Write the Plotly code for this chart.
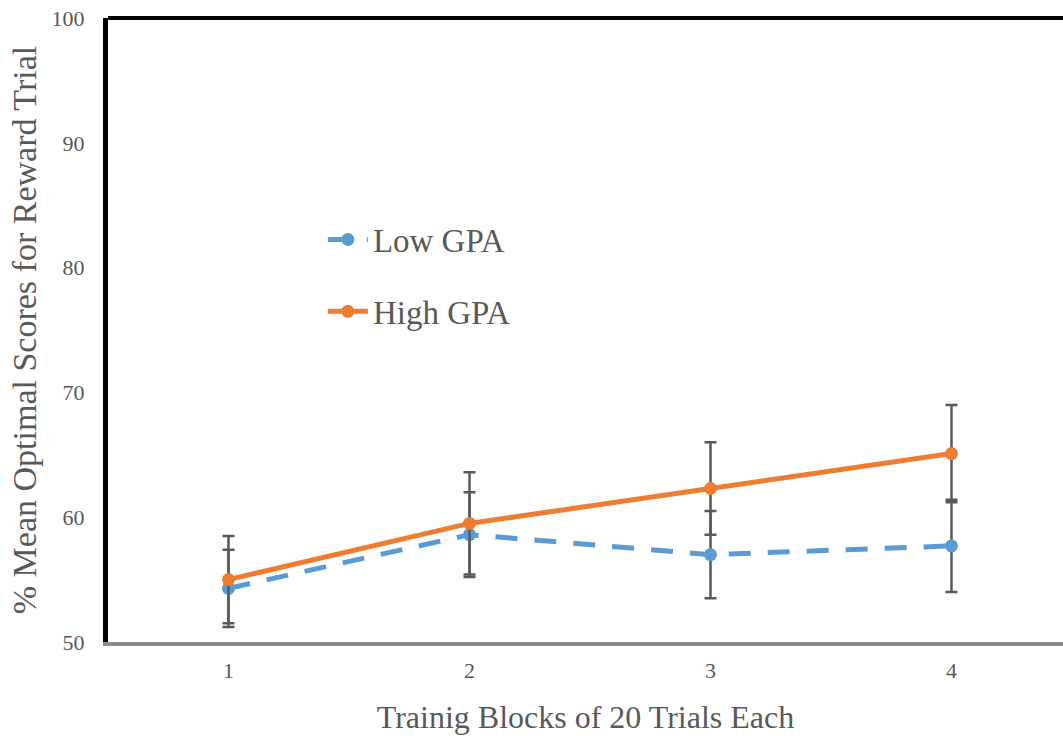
import plotly.graph_objects as go

blocks = [1, 2, 3, 4]
block_labels = ["1", "2", "3", "4"]
low_gpa = [54.3, 58.6, 57.0, 57.7]
low_err = [3.1, 3.4, 3.5, 3.7]
high_gpa = [55.0, 59.5, 62.3, 65.1]
high_err = [3.5, 4.1, 3.7, 3.9]

FONT = "Liberation Serif, Times New Roman, serif"
GRAY = "#595959"

fig = go.Figure()
fig.add_trace(go.Scatter(
    x=blocks, y=low_gpa, name="Low GPA", mode="lines+markers",
    line=dict(color="#5B9BD5", width=5, dash="22px,17px"),
    marker=dict(size=13, color="#5B9BD5"),
    error_y=dict(type="data", array=low_err, color=GRAY, thickness=2.5, width=6),
    legendgroup="low",
))
fig.add_trace(go.Scatter(
    x=blocks, y=high_gpa, name="High GPA", mode="lines+markers",
    line=dict(color="#ED7D31", width=5),
    marker=dict(size=13, color="#ED7D31"),
    error_y=dict(type="data", array=high_err, color=GRAY, thickness=2.5, width=6),
    legendgroup="high",
))

fig.update_layout(
    width=1063, height=736,
    margin=dict(l=108, r=0, t=18, b=94),
    paper_bgcolor="white", plot_bgcolor="white",
    font=dict(family=FONT, color=GRAY),
    showlegend=True,
    legend=dict(
        x=0.225, y=0.69, xanchor="left", yanchor="top",
        font=dict(size=33, family=FONT, color=GRAY),
        traceorder="grouped", tracegroupgap=26,
        bgcolor="rgba(0,0,0,0)", itemwidth=40,
    ),
    xaxis=dict(
        range=[0.5, 0.5 + 955 / 241], tickvals=blocks, ticktext=block_labels,
        showgrid=False, zeroline=False, showline=True, linecolor="#8c8c8c", linewidth=4,
        ticks="", tickfont=dict(size=22, family=FONT, color=GRAY), ticklabelstandoff=6,
        title=dict(text="Trainig Blocks of 20 Trials Each", font=dict(size=32, family=FONT, color=GRAY), standoff=24),
    ),
    yaxis=dict(
        range=[50, 100], tickvals=[50, 60, 70, 80, 90, 100],
        showgrid=False, zeroline=False, showline=True, linecolor="black", linewidth=5,
        ticks="", tickfont=dict(size=22, family=FONT, color=GRAY), ticklabelstandoff=14,
        title=dict(text="% Mean Optimal Scores for Reward Trial", font=dict(size=34, family=FONT, color=GRAY), standoff=6),
    ),
    shapes=[dict(type="line", xref="paper", yref="paper", x0=0, x1=1, y0=1, y1=1,
                 line=dict(color="black", width=4))],
)

fig.write_html("out.html", config={"displayModeBar": False},
               post_script="document.body.style.margin='0';")
